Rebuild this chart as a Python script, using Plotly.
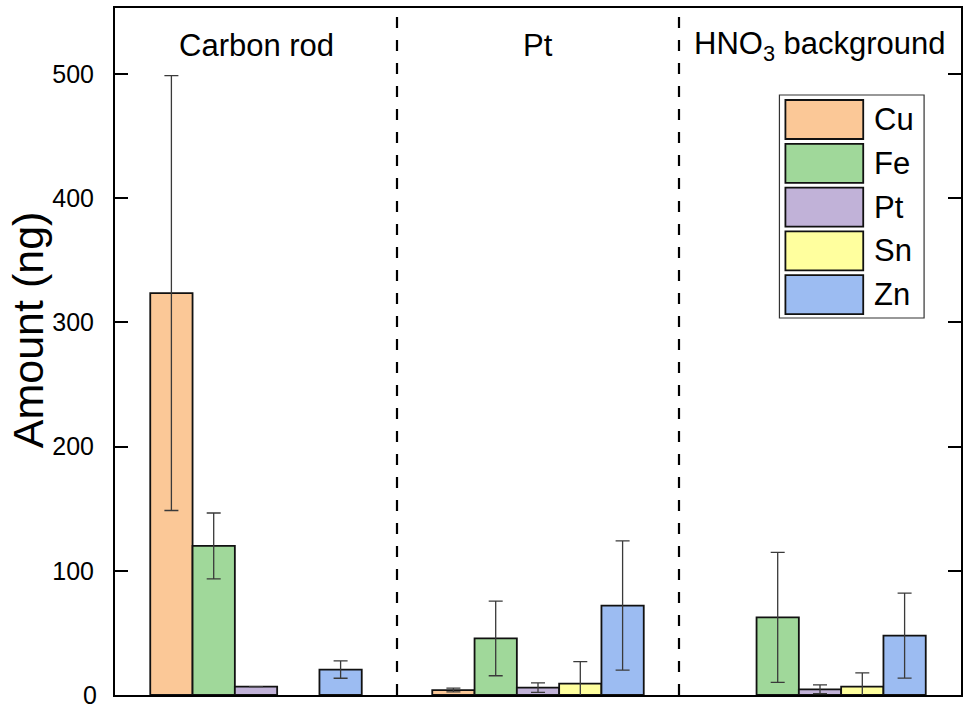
import plotly.graph_objects as go

groups = ["Carbon rod", "Pt", "HNO3 background"]
group_labels = ["Carbon rod", "Pt", "HNO<sub>3</sub> background"]
elements = ["Cu", "Fe", "Pt", "Sn", "Zn"]
colors = ["#FBC897", "#A0D89A", "#C1B2D8", "#FFFF9E", "#9CBCF2"]
y_ticks = [0, 100, 200, 300, 400, 500]

values = {
    "Cu": [323.5, 4.0, None],
    "Fe": [120.0, 45.5, 62.5],
    "Pt": [6.7, 5.9, 4.6],
    "Sn": [None, 9.2, 6.8],
    "Zn": [20.5, 72.0, 47.8],
}
errors = {
    "Cu": [175.0, 1.5, None],
    "Fe": [26.5, 30.0, 52.3],
    "Pt": [None, 3.8, 3.5],
    "Sn": [None, 17.6, 11.0],
    "Zn": [7.0, 52.0, 34.2],
}

FONT = "Arial, Liberation Sans, sans-serif"
fig = go.Figure()
for el, col in zip(elements, colors):
    fig.add_trace(go.Bar(
        x=[0, 1, 2], y=values[el], name=el,
        marker=dict(color=col, line=dict(color="#111111", width=1.8)),
        error_y=dict(type="data", array=errors[el], visible=True,
                     color="#3a3a3a", thickness=1.3, width=7),
        showlegend=False,
    ))

y_max = 553
shapes = []
annotations = []
for sep in [0.5, 1.5]:
    shapes.append(dict(type="line", xref="x", yref="paper", x0=sep, x1=sep, y0=0, y1=1,
                       line=dict(color="black", width=2.2, dash="11px,12px")))
for i, lab in enumerate(group_labels):
    annotations.append(dict(x=i, y=0.945, xref="x", yref="paper", text=lab, showarrow=False,
                            font=dict(family=FONT, size=31, color="black"),
                            xanchor="center", yanchor="middle"))

annotations.append(dict(x=0, y=y_ticks[0], xref="paper", yref="y", text=str(y_ticks[0]),
                        showarrow=False, xanchor="right", yanchor="middle", xshift=-16,
                        font=dict(family=FONT, size=25, color="black")))

def px(xp):
    return (xp - 115) / 848.0
def py(yp):
    return (695 - yp) / 687.0

# y-axis title as rotated annotation (slightly above plot centre as in the reference)
annotations.append(dict(x=px(28), y=py(330), xref="paper", yref="paper", text="Amount (ng)",
                        textangle=-90, showarrow=False, xanchor="center", yanchor="middle",
                        font=dict(family=FONT, size=43, color="black")))

shapes.append(dict(type="rect", xref="paper", yref="paper",
                   x0=px(781), x1=px(926), y0=py(95), y1=py(318),
                   line=dict(color="#333333", width=1.2), fillcolor="white", layer="above"))
for k, (el, col) in enumerate(zip(elements, colors)):
    top = 100 + k * 43.8
    shapes.append(dict(type="rect", xref="paper", yref="paper",
                       x0=px(787), x1=px(865), y0=py(top), y1=py(top + 39),
                       line=dict(color="#111111", width=1.8), fillcolor=col, layer="above"))
    annotations.append(dict(x=px(874), y=py(top + 19.5), xref="paper", yref="paper", text=el,
                            showarrow=False, xanchor="left", yanchor="middle",
                            font=dict(family=FONT, size=31, color="black")))

fig.update_layout(
    width=964, height=705,
    margin=dict(l=115, r=1, t=8, b=10),
    paper_bgcolor="white", plot_bgcolor="white",
    barmode="group", bargap=0.25, bargroupgap=0,
    shapes=shapes, annotations=annotations,
    showlegend=False,
    font=dict(family=FONT, color="black"),
)
fig.update_xaxes(range=[-0.5, 2.5], showticklabels=False, ticks="", showgrid=False,
                 showline=True, linecolor="black", linewidth=2, mirror=True, zeroline=False)
fig.update_yaxes(range=[0, y_max], tickvals=y_ticks, ticktext=[""] + [str(v) for v in y_ticks[1:]],
                 ticks="inside", ticklen=13, tickwidth=2, tickcolor="black",
                 ticklabelstandoff=14,
                 showgrid=False, showline=True, linecolor="black", linewidth=2, mirror="ticks",
                 zeroline=False, tickfont=dict(family=FONT, size=25, color="black"))
fig.write_html("out.html")
